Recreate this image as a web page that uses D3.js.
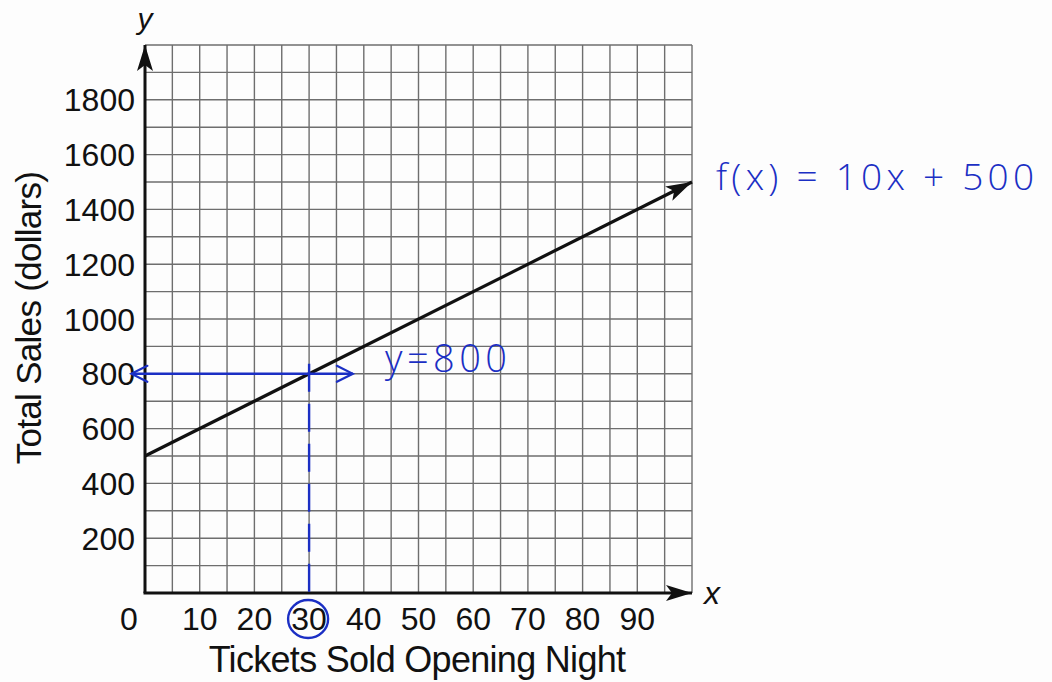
<!DOCTYPE html>
<html>
<head>
<meta charset="utf-8">
<script src="https://cdn.jsdelivr.net/npm/d3@7"></script>
<style>
  html, body { margin: 0; padding: 0; background: #fdfdfd; }
  text { font-family: "Liberation Sans", Arial, sans-serif; fill: #111; }
  .hand { font-family: "Open Sans", sans-serif; font-weight: 300; fill: #1b2fc4; }
</style>
</head>
<body>
<div id="chart"></div>
<script>
// values
const xTicks = [10, 20, 30, 40, 50, 60, 70, 80, 90];
const yTicks = [200, 400, 600, 800, 1000, 1200, 1400, 1600, 1800];
const xDomain = [0, 100];
const yDomain = [0, 2000];
const xGridStep = 5;
const yGridStep = 100;
const salesLine = [[0, 500], [100, 1500]];   // f(x) = 10x + 500
const solution = {x: 30, y: 800};
const hArrow = [-2.5, 38];                    // blue y=800 arrow extent in x units
const xTitle = "Tickets Sold Opening Night";
const yTitle = "Total Sales (dollars)";
const fnLabel = "f(x) = 10x + 500";
const yLabel = "y=800";

const width = 1052, height = 682;
const margin = {top: 45, right: 360, bottom: 89, left: 145};
const blue = "#1b2fc4";

const x = d3.scaleLinear()
  .domain(xDomain)
  .range([margin.left, width - margin.right]);

const y = d3.scaleLinear()
  .domain(yDomain)
  .range([height - margin.bottom, margin.top]);

const svg = d3.select("#chart")
  .append("svg")
  .attr("width", width)
  .attr("height", height);

const defs = svg.append("defs");
defs.append("marker")
    .attr("id", "blackHead")
    .attr("viewBox", "0 0 26 16")
    .attr("refX", 26).attr("refY", 8)
    .attr("markerWidth", 26).attr("markerHeight", 16)
    .attr("markerUnits", "userSpaceOnUse")
    .attr("orient", "auto")
  .append("path")
    .attr("d", "M0,0 L26,8 L0,16 L6,8 Z")
    .attr("fill", "#111");

defs.append("marker")
    .attr("id", "blueHead")
    .attr("viewBox", "0 0 20 20")
    .attr("refX", 18).attr("refY", 10)
    .attr("markerWidth", 20).attr("markerHeight", 20)
    .attr("markerUnits", "userSpaceOnUse")
    .attr("orient", "auto-start-reverse")
  .append("path")
    .attr("d", "M2,2 L18,10 L2,18")
    .attr("fill", "none")
    .attr("stroke", blue)
    .attr("stroke-width", 2.2)
    .attr("stroke-linecap", "round");

// grid
const grid = svg.append("g")
  .attr("stroke", "#6e6e6e")
  .attr("stroke-width", 1.4);

grid.selectAll("line.v")
  .data(d3.range(xDomain[0] + xGridStep, xDomain[1] + 0.01, xGridStep))
  .join("line")
    .attr("x1", d => x(d)).attr("x2", d => x(d))
    .attr("y1", y(yDomain[0])).attr("y2", y(yDomain[1]));

grid.selectAll("line.h")
  .data(d3.range(yDomain[0] + yGridStep, yDomain[1] + 0.01, yGridStep))
  .join("line")
    .attr("x1", x(xDomain[0])).attr("x2", x(xDomain[1]))
    .attr("y1", d => y(d)).attr("y2", d => y(d));

// axes with arrows
svg.append("line")
    .attr("x1", x(0)).attr("y1", y(0))
    .attr("x2", x(0)).attr("y2", y(yDomain[1]))
    .attr("stroke", "#111").attr("stroke-width", 3)
    .attr("marker-end", "url(#blackHead)");

svg.append("line")
    .attr("x1", x(0) - 1.5).attr("y1", y(0))
    .attr("x2", x(xDomain[1])).attr("y2", y(0))
    .attr("stroke", "#111").attr("stroke-width", 3)
    .attr("marker-end", "url(#blackHead)");

// tick labels
svg.append("g")
  .selectAll("text")
  .data(yTicks)
  .join("text")
    .attr("x", x(0) - 10)
    .attr("y", d => y(d))
    .attr("dy", "0.36em")
    .attr("text-anchor", "end")
    .attr("font-size", 32)
    .text(d => d);

svg.append("g")
  .selectAll("text")
  .data(xTicks)
  .join("text")
    .attr("x", d => x(d))
    .attr("y", y(0) + 37)
    .attr("text-anchor", "middle")
    .attr("font-size", 32)
    .text(d => d);

svg.append("text")
    .attr("x", x(0) - 16)
    .attr("y", y(0) + 37)
    .attr("text-anchor", "middle")
    .attr("font-size", 32)
    .text("0");

// axis letters and titles
svg.append("text")
    .attr("x", x(0))
    .attr("y", 29)
    .attr("text-anchor", "middle")
    .attr("font-size", 30)
    .attr("font-style", "italic")
    .text("y");

svg.append("text")
    .attr("x", x(xDomain[1]) + 20)
    .attr("y", y(0) + 11)
    .attr("text-anchor", "middle")
    .attr("font-size", 32)
    .attr("font-style", "italic")
    .text("x");

svg.append("text")
    .attr("x", 417)
    .attr("y", 672)
    .attr("text-anchor", "middle")
    .attr("font-size", 36)
    .attr("letter-spacing", -0.7)
    .text(xTitle);

svg.append("text")
    .attr("transform", `translate(41,318) rotate(-90)`)
    .attr("text-anchor", "middle")
    .attr("font-size", 35)
    .attr("letter-spacing", -0.7)
    .text(yTitle);

// sales line
svg.append("line")
    .attr("x1", x(salesLine[0][0])).attr("y1", y(salesLine[0][1]))
    .attr("x2", x(salesLine[1][0])).attr("y2", y(salesLine[1][1]))
    .attr("stroke", "#111").attr("stroke-width", 3.2)
    .attr("marker-end", "url(#blackHead)");

// blue annotations
svg.append("line")
    .attr("x1", x(hArrow[0])).attr("y1", y(solution.y))
    .attr("x2", x(hArrow[1])).attr("y2", y(solution.y))
    .attr("stroke", blue).attr("stroke-width", 2.4)
    .attr("marker-start", "url(#blueHead)")
    .attr("marker-end", "url(#blueHead)");

svg.append("line")
    .attr("x1", x(solution.x)).attr("y1", y(solution.y) - 10)
    .attr("x2", x(solution.x)).attr("y2", y(0))
    .attr("stroke", blue).attr("stroke-width", 2.4)
    .attr("stroke-dasharray", "28,12");

svg.append("ellipse")
    .attr("cx", x(solution.x) - 1)
    .attr("cy", y(0) + 26)
    .attr("rx", 20).attr("ry", 19)
    .attr("fill", "none")
    .attr("stroke", blue).attr("stroke-width", 2.4);

svg.append("text")
    .attr("class", "hand")
    .attr("x", 385)
    .attr("y", y(solution.y) - 2)
    .attr("font-size", 38)
    .attr("textLength", 122)
    .attr("lengthAdjust", "spacing")
    .text(yLabel);

svg.append("text")
    .attr("class", "hand")
    .attr("x", 716)
    .attr("y", 190)
    .attr("font-size", 37)
    .attr("textLength", 318)
    .attr("lengthAdjust", "spacing")
    .text(fnLabel);
</script>
</body>
</html>
